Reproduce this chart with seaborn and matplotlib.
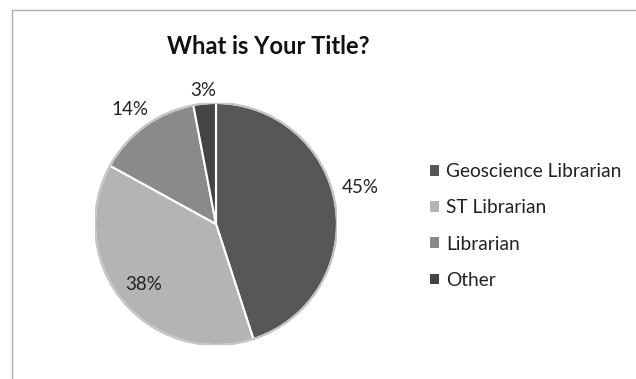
import numpy as np
import matplotlib
matplotlib.use("Agg")
import matplotlib.pyplot as plt
import seaborn as sns
from matplotlib.patches import Patch, Circle
from matplotlib.lines import Line2D

categories = ["Geoscience Librarian", "ST Librarian", "Librarian", "Other"]
shares = [45, 38, 14, 3]
slice_colors = ["#575757", "#b4b4b4", "#8a8a8a", "#444444"]
# label placement per slice: radius (in pie radii) and angular nudge (degrees)
label_radius = [1.23, 0.78, 1.18, 1.11]
label_nudge = [5, 0, 1, 0]

sns.set_theme(style="white")
plt.rcParams["font.family"] = ["Lato", "DejaVu Sans"]

W, H = 636, 379
fig = plt.figure(figsize=(W / 100, H / 100), dpi=100)
fig.patch.set_facecolor("white")

# chart frame (left and top edges visible)
fig.add_artist(Line2D([12 / W, 12 / W], [0, 1 - 10 / H], transform=fig.transFigure,
                      color="#b0b0b0", lw=1.0))
fig.add_artist(Line2D([12 / W, 1], [1 - 10 / H, 1 - 10 / H], transform=fig.transFigure,
                      color="#b0b0b0", lw=1.0))

cx, cy, r = 216, 224, 121
ax = fig.add_axes([(cx - r) / W, (H - cy - r) / H, 2 * r / W, 2 * r / H])
wedges, _ = ax.pie(shares, colors=slice_colors, startangle=90, counterclock=False,
                   radius=1.0, wedgeprops=dict(edgecolor="white", linewidth=1.5))
ax.add_patch(Circle((0, 0), 1.0, fill=False, edgecolor="#c4c4c4", lw=1.5, zorder=5))

total = sum(shares)
start = 90.0
for val, rr, nudge in zip(shares, label_radius, label_nudge):
    sweep = 360.0 * val / total
    mid = np.deg2rad(start - sweep / 2 + nudge)
    ax.text(rr * np.cos(mid), rr * np.sin(mid), f"{val}%", ha="center", va="center",
            fontsize=13.5, color="#222222")
    start -= sweep

ax.set_xlim(-1, 1)
ax.set_ylim(-1, 1)
ax.set_aspect("equal")
ax.axis("off")

fig.text(268 / W, 1 - 46 / H, "What is Your Title?", ha="center", va="center",
         fontsize=17.1, fontweight="bold", color="#111111")

handles = [Patch(facecolor=c, edgecolor="none") for c in slice_colors]
fig.legend(handles, categories, loc="upper left", bbox_to_anchor=(413 / W, 1 - 146 / H),
           frameon=False, fontsize=13.8, handlelength=0.48, handleheight=0.48,
           handletextpad=0.35, labelspacing=1.0, labelcolor="#222222")

fig.savefig("out.png", dpi=100)
